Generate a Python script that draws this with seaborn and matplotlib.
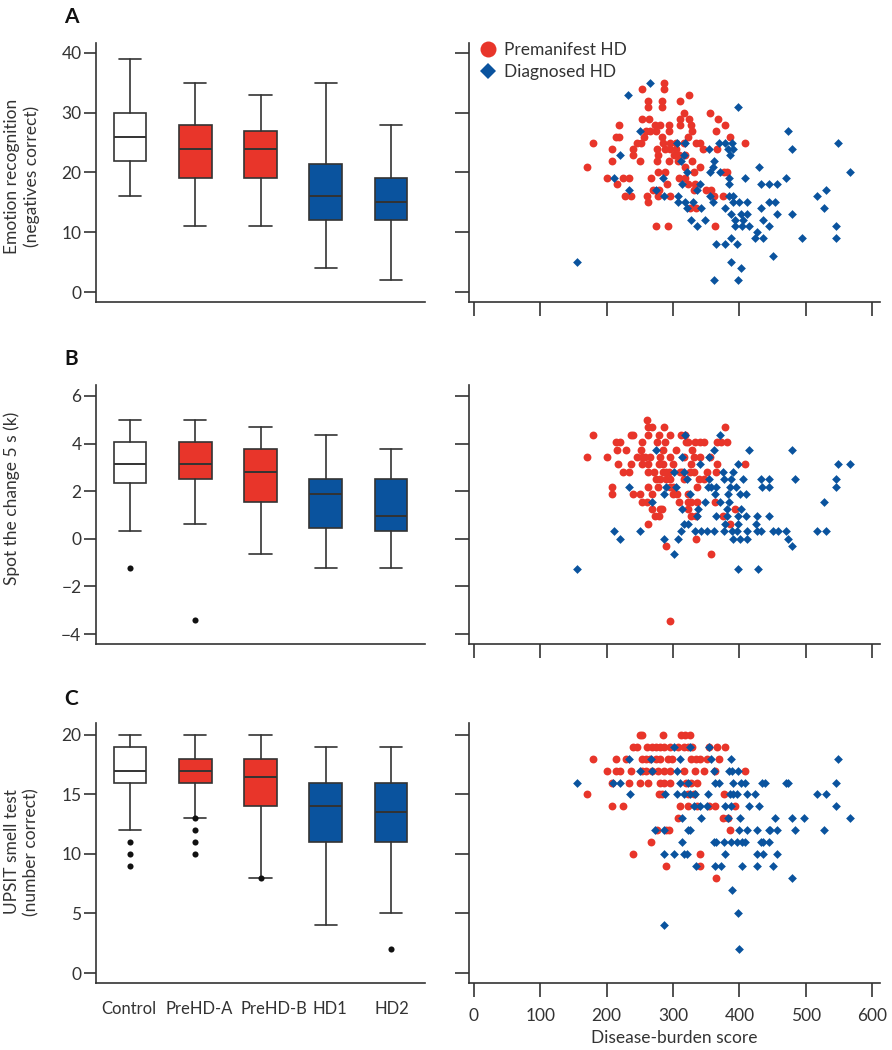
import numpy as np
import pandas as pd
import matplotlib
matplotlib.use('Agg')
import matplotlib.pyplot as plt
from matplotlib.lines import Line2D
from matplotlib.transforms import ScaledTranslation
import seaborn as sns

RED = '#E8352A'
BLUE = '#0A539E'
DARK = '#333333'

groups = ['Control', 'PreHD-A', 'PreHD-B', 'HD1', 'HD2']
box_colors = ['white', RED, RED, BLUE, BLUE]
# décalage horizontal des étiquettes (en pixels), comme dans la figure d'origine
label_shift_px = [-1, 4, 13, 4, 1]

# boxplots : moustache bas, Q1, médiane, Q3, moustache haut, points isolés
emo_low = [16, 11, 11, 4, 2]
emo_q1 = [22, 19, 19, 12, 12]
emo_med = [26, 24, 24, 16, 15]
emo_q3 = [30, 28, 27, 21.5, 19]
emo_high = [39, 35, 33, 35, 28]
emo_fliers = [[], [], [], [], []]

spot_low = [0.32, 0.64, -0.63, -1.24, -1.24]
spot_q1 = [2.36, 2.51, 1.56, 0.47, 0.32]
spot_med = [3.14, 3.14, 2.82, 1.88, 0.95]
spot_q3 = [4.06, 4.06, 3.77, 2.5, 2.5]
spot_high = [5.0, 5.0, 4.69, 4.38, 3.77]
spot_fliers = [[-1.24], [-3.43], [], [], []]

smell_low = [12, 13, 8, 4, 5]
smell_q1 = [16, 16, 14, 11, 11]
smell_med = [17, 17, 16.5, 14, 13.5]
smell_q3 = [19, 18, 18, 16, 16]
smell_high = [20, 20, 20, 19, 19]
smell_fliers = [[11, 10, 9], [13, 12, 11, 10], [8], [], [2]]

# nuages de points : score de charge de la maladie vs score du test
emo_pre_burden = [
    287,
    254, 286,
    324,
    262, 284, 310,
    262, 284,
    317, 356,
    253, 264, 311, 324, 368,
    219, 273, 280, 294, 311, 327, 378,
    259, 266, 274, 294, 328, 365,
    214, 218, 256, 284, 322, 386,
    180, 245, 252, 285, 295, 304, 316, 334, 340, 408,
    208, 239, 276, 288, 295, 304, 345, 366,
    239, 278, 302, 309, 318,
    208, 251, 276, 294, 308, 329,
    171, 318, 340,
    278, 288, 332, 377, 382,
    200, 225, 234, 267, 309, 318,
    215, 291, 322, 333,
    270, 279, 332, 350, 358,
    228, 236, 261, 278, 295, 362, 376,
    262,
    325, 334,
    274, 293, 364,
]
emo_pre_score = [
    35,
    34, 34,
    33,
    32, 32, 32,
    31, 31,
    30, 30,
    29, 29, 29, 29, 29,
    28, 28, 28, 28, 28, 28, 28,
    27, 27, 27, 27, 27, 27,
    26, 26, 26, 26, 26, 26,
    25, 25, 25, 25, 25, 25, 25, 25, 25, 25,
    24, 24, 24, 24, 24, 24, 24, 24,
    23, 23, 23, 23, 23,
    22, 22, 22, 22, 22, 22,
    21, 21, 21,
    20, 20, 20, 20, 20,
    19, 19, 19, 19, 19, 19,
    18, 18, 18, 18,
    17, 17, 17, 17, 17,
    16, 16, 16, 16, 16, 16, 16,
    15,
    14, 14,
    11, 11, 11,
]
emo_hd_burden = [
    265,
    232,
    398,
    250, 473,
    306, 318, 370, 378, 389, 549,
    355, 383, 391, 479,
    220, 316, 386,
    312, 362,
    360, 430,
    321, 356, 371, 567,
    211, 285, 385, 409, 471,
    313, 341, 385, 433, 444, 457,
    234, 275, 336, 530,
    287, 307, 356, 385, 390, 517,
    308, 318, 330, 361, 390, 400, 411, 444, 454,
    321, 342, 379, 432, 527,
    388, 403, 411, 456, 480,
    327, 348, 393, 406, 436,
    336, 394, 404, 415, 445, 546,
    426,
    388, 424, 436, 495, 545,
    365, 378, 396,
    450,
    156, 388,
    403,
    362, 398,
]
emo_hd_score = [
    35,
    33,
    31,
    27, 27,
    25, 25, 25, 25, 25, 25,
    24, 24, 24, 24,
    23, 23, 23,
    22, 22,
    21, 21,
    20, 20, 20, 20,
    19, 19, 19, 19, 19,
    18, 18, 18, 18, 18, 18,
    17, 17, 17, 17,
    16, 16, 16, 16, 16, 16,
    15, 15, 15, 15, 15, 15, 15, 15, 15,
    14, 14, 14, 14, 14,
    13, 13, 13, 13, 13,
    12, 12, 12, 12, 12,
    11, 11, 11, 11, 11, 11,
    10,
    9, 9, 9, 9, 9,
    8, 8, 8,
    6,
    5, 5,
    4,
    2, 2,
]

spot_pre_burden = [
    261,
    263, 268, 286, 378,
    180, 237, 240, 262, 279, 295, 312, 318,
    214, 220, 254, 276, 288, 320, 323, 333, 340, 346, 366, 373, 382,
    215, 229, 252, 285, 305, 329,
    171, 200, 245, 253, 258, 265, 280, 296, 317, 332, 341, 356,
    217, 236, 253, 263, 279, 285, 300, 327, 366, 408,
    225, 233, 263, 272, 285, 290, 294, 311, 313, 325, 332, 351, 365,
    274, 280, 289, 295, 316, 339, 346,
    208, 263, 277, 296, 300, 336,
    208, 239, 251, 269, 300, 306, 323,
    253, 261, 309, 322, 327, 336, 364,
    268, 280, 284, 322, 393,
    273, 279, 327, 335, 376,
    262, 386,
    334,
    289,
    358,
    296,
]
spot_pre_score = [
    5.0,
    4.69, 4.69, 4.69, 4.69,
    4.38, 4.38, 4.38, 4.38, 4.38, 4.38, 4.38, 4.38,
    4.06, 4.06, 4.06, 4.06, 4.06, 4.06, 4.06, 4.06, 4.06, 4.06, 4.06, 4.06, 4.06,
    3.75, 3.75, 3.75, 3.75, 3.75, 3.75,
    3.44, 3.44, 3.44, 3.44, 3.44, 3.44, 3.44, 3.44, 3.44, 3.44, 3.44, 3.44,
    3.13, 3.13, 3.13, 3.13, 3.13, 3.13, 3.13, 3.13, 3.13, 3.13,
    2.81, 2.81, 2.81, 2.81, 2.81, 2.81, 2.81, 2.81, 2.81, 2.81, 2.81, 2.81, 2.81,
    2.5, 2.5, 2.5, 2.5, 2.5, 2.5, 2.5,
    2.19, 2.19, 2.19, 2.19, 2.19, 2.19,
    1.88, 1.88, 1.88, 1.88, 1.88, 1.88, 1.88,
    1.56, 1.56, 1.56, 1.56, 1.56, 1.56, 1.56,
    1.25, 1.25, 1.25, 1.25, 1.25,
    0.94, 0.94, 0.94, 0.94, 0.94,
    0.63, 0.63,
    0.0,
    -0.31,
    -0.63,
    -3.44,
]
spot_hd_burden = [
    318, 371,
    274, 362, 415, 479,
    313, 355,
    340, 398, 549, 567,
    301, 317, 375, 390,
    321, 355, 377, 387, 406, 432, 444, 484, 546,
    234, 289, 304, 353, 358, 365, 386, 395, 434, 445, 546,
    287, 326, 363, 383, 401, 410,
    268, 348, 371, 384, 527,
    313, 338, 382, 403,
    336, 365, 381, 398, 410, 426, 445,
    316, 322, 378, 398, 425,
    211, 251, 312, 333, 342, 351, 362, 377, 389, 396, 411, 426, 433, 451, 458, 471, 517, 531,
    220, 287, 308, 391, 401, 412, 473,
    480,
    302,
    156, 398, 428,
]
spot_hd_score = [
    4.38, 4.38,
    3.75, 3.75, 3.75, 3.75,
    3.44, 3.44,
    3.13, 3.13, 3.13, 3.13,
    2.81, 2.81, 2.81, 2.81,
    2.5, 2.5, 2.5, 2.5, 2.5, 2.5, 2.5, 2.5, 2.5,
    2.19, 2.19, 2.19, 2.19, 2.19, 2.19, 2.19, 2.19, 2.19, 2.19, 2.19,
    1.88, 1.88, 1.88, 1.88, 1.88, 1.88,
    1.56, 1.56, 1.56, 1.56, 1.56,
    1.25, 1.25, 1.25, 1.25,
    0.94, 0.94, 0.94, 0.94, 0.94, 0.94, 0.94,
    0.63, 0.63, 0.63, 0.63, 0.63,
    0.31, 0.31, 0.31, 0.31, 0.31, 0.31, 0.31, 0.31, 0.31, 0.31, 0.31, 0.31, 0.31, 0.31, 0.31, 0.31, 0.31, 0.31,
    0.0, 0.0, 0.0, 0.0, 0.0, 0.0, 0.0,
    -0.31,
    -0.63,
    -1.25, -1.25, -1.25,
]

smell_pre_burden = [
    250, 254, 285, 312, 318, 325,
    239, 245, 261, 268, 274, 280, 286, 295, 308, 316, 322, 329, 355, 366, 378,
    180, 214, 229, 254, 260, 266, 274, 280, 292, 299, 327, 334, 341, 351, 369,
    200, 214, 220, 236, 253, 260, 268, 277, 286, 296, 317, 333, 346, 363, 408,
    208, 234, 250, 263, 280, 287, 295, 320, 327, 336,
    171, 279, 284, 323, 331, 377,
    208, 225, 310, 323, 336, 355, 364, 393,
    308, 376, 383,
    276, 290, 294, 386,
    267,
    239, 340,
    289, 340,
    365,
]
smell_pre_score = [
    20, 20, 20, 20, 20, 20,
    19, 19, 19, 19, 19, 19, 19, 19, 19, 19, 19, 19, 19, 19, 19,
    18, 18, 18, 18, 18, 18, 18, 18, 18, 18, 18, 18, 18, 18, 18,
    17, 17, 17, 17, 17, 17, 17, 17, 17, 17, 17, 17, 17, 17, 17,
    16, 16, 16, 16, 16, 16, 16, 16, 16, 16,
    15, 15, 15, 15, 15, 15,
    14, 14, 14, 14, 14, 14, 14, 14,
    13, 13, 13,
    12, 12, 12, 12,
    11,
    10, 10,
    9, 9,
    8,
]
smell_hd_burden = [
    301, 326, 355,
    234, 267, 311, 357, 388, 549,
    250, 269, 306, 362, 384, 389, 398,
    156, 210, 220, 311, 323, 363, 369, 390, 403, 409, 434, 439, 471, 474, 546,
    235, 288, 306, 316, 326, 333, 353, 386, 391, 396, 411, 424, 517, 530,
    331, 340, 351, 378, 388, 415, 430, 546,
    314, 342, 383, 401, 453, 479, 497, 567,
    273, 287, 323, 326, 400, 411, 426, 444, 446, 457, 484, 527,
    314, 362, 365, 377, 388, 396, 404, 409, 433, 436, 445,
    287, 302, 316, 321, 379, 426, 436, 456,
    335, 363, 372, 404, 427, 450,
    480,
    389,
    398,
    287,
    400,
]
smell_hd_score = [
    19, 19, 19,
    18, 18, 18, 18, 18, 18,
    17, 17, 17, 17, 17, 17, 17,
    16, 16, 16, 16, 16, 16, 16, 16, 16, 16, 16, 16, 16, 16, 16,
    15, 15, 15, 15, 15, 15, 15, 15, 15, 15, 15, 15, 15, 15,
    14, 14, 14, 14, 14, 14, 14, 14,
    13, 13, 13, 13, 13, 13, 13, 13,
    12, 12, 12, 12, 12, 12, 12, 12, 12, 12, 12, 12,
    11, 11, 11, 11, 11, 11, 11, 11, 11, 11, 11,
    10, 10, 10, 10, 10, 10, 10, 10,
    9, 9, 9, 9, 9, 9,
    8,
    7,
    5,
    4,
    2,
]

sns.set_style('ticks')
plt.rcParams['font.family'] = ['Lato', 'DejaVu Sans']
plt.rcParams['text.color'] = DARK
plt.rcParams['axes.labelcolor'] = DARK
plt.rcParams['xtick.color'] = DARK
plt.rcParams['ytick.color'] = DARK

fig = plt.figure(figsize=(8.92, 10.5), dpi=100)
W, H = 892, 1050


def px_axes(x0, y0, x1, y1):
    # rectangle en pixels (origine en haut à gauche)
    return fig.add_axes([x0 / W, 1 - y1 / H, (x1 - x0) / W, (y1 - y0) / H])


def style_spines(ax):
    sns.despine(ax=ax)
    for side in ['left', 'bottom']:
        ax.spines[side].set_color(DARK)
        ax.spines[side].set_linewidth(1.2)


def draw_box(ax, low, q1, med, q3, high, fliers, ylim, yticks):
    stats = []
    for g, lo, a, m, b, hi, f in zip(groups, low, q1, med, q3, high, fliers):
        stats.append(dict(label=g, whislo=lo, q1=a, med=m, q3=b, whishi=hi, fliers=f))
    bp = ax.bxp(stats, positions=range(len(groups)), widths=0.5, capwidths=0.34,
                patch_artist=True, showfliers=True,
                boxprops=dict(edgecolor=DARK, linewidth=1.2),
                whiskerprops=dict(color=DARK, linewidth=1.2),
                capprops=dict(color=DARK, linewidth=1.2),
                medianprops=dict(color=DARK, linewidth=1.4),
                flierprops=dict(marker='o', markerfacecolor='#111111',
                                markeredgecolor='none', markersize=4.4))
    for patch, c in zip(bp['boxes'], box_colors):
        patch.set_facecolor(c)
    ax.set_xlim(-0.52, 4.52)
    ax.set_ylim(*ylim)
    ax.set_yticks(yticks)
    ax.tick_params(axis='y', length=9, width=1.2, pad=1.5, labelsize=12.5)
    ax.tick_params(axis='x', length=0, pad=13, labelsize=12)
    style_spines(ax)


def draw_scatter(ax, pre_x, pre_y, hd_x, hd_y, ylim, yticks):
    pre = pd.DataFrame({'burden': pre_x, 'score': pre_y})
    hd = pd.DataFrame({'burden': hd_x, 'score': hd_y})
    sns.scatterplot(data=pre, x='burden', y='score', color=RED, marker='o',
                    s=32, linewidth=0, ax=ax)
    sns.scatterplot(data=hd, x='burden', y='score', color=BLUE, marker='D',
                    s=20, linewidth=0, ax=ax)
    ax.set_xlim(-7.5, 612)
    ax.set_ylim(*ylim)
    ax.set_yticks(yticks)
    ax.set_yticklabels([])
    ax.set_xticks([0, 100, 200, 300, 400, 500, 600])
    ax.set_xlabel('')
    ax.set_ylabel('')
    ax.tick_params(axis='both', length=10, width=1.2, pad=8, labelsize=12.5)
    style_spines(ax)


rows = [
    (43, 302, 'A', 22.7, 'Emotion recognition\n(negatives correct)', 0.486,
     (-1.67, 41.67), [0, 10, 20, 30, 40],
     (emo_low, emo_q1, emo_med, emo_q3, emo_high, emo_fliers),
     (emo_pre_burden, emo_pre_score, emo_hd_burden, emo_hd_score)),
    (385, 644, 'B', 365, 'Spot the change 5 s (k)', 0.564,
     (-4.42, 6.46), [-4, -2, 0, 2, 4, 6],
     (spot_low, spot_q1, spot_med, spot_q3, spot_high, spot_fliers),
     (spot_pre_burden, spot_pre_score, spot_hd_burden, spot_hd_score)),
    (723, 983, 'C', 705, 'UPSIT smell test\n(number correct)', 0.504,
     (-0.84, 21.0), [0, 5, 10, 15, 20],
     (smell_low, smell_q1, smell_med, smell_q3, smell_high, smell_fliers),
     (smell_pre_burden, smell_pre_score, smell_hd_burden, smell_hd_score)),
]

for i, (top, bottom, letter, base, ylab, ylab_y, ylim, yticks, box, sc) in enumerate(rows):
    ax_box = px_axes(96, top, 425, bottom)
    ax_sc = px_axes(469, top, 880, bottom)

    draw_box(ax_box, *box, ylim, yticks)
    draw_scatter(ax_sc, *sc, ylim, yticks)

    ax_box.set_ylabel(ylab, fontsize=12.5, linespacing=1.25)
    ax_box.yaxis.label.set_verticalalignment('top')
    ax_box.yaxis.set_label_coords(-0.28, ylab_y)

    if i < 2:
        ax_box.set_xticklabels([])
        ax_sc.set_xticklabels([])
    else:
        ax_sc.set_xlabel('Disease-burden score', fontsize=12.5, labelpad=4)
        for lab, dx in zip(ax_box.get_xticklabels(), label_shift_px):
            lab.set_transform(lab.get_transform() + ScaledTranslation(dx / 100, 0, fig.dpi_scale_trans))

    fig.text(64 / W, 1 - base / H, letter, fontsize=15, fontweight='bold',
             va='baseline', ha='left', color='#111111')

    if i == 0:
        handles = [
            Line2D([], [], linestyle='none', marker='o', color=RED, markersize=11.5,
                   markeredgewidth=0, label='Premanifest HD'),
            Line2D([], [], linestyle='none', marker='D', color=BLUE, markersize=8,
                   markeredgewidth=0, label='Diagnosed HD'),
        ]
        ax_sc.legend(handles=handles, loc='upper left', bbox_to_anchor=(0.0, 1.045),
                     frameon=False, fontsize=12.5, handlelength=1.0,
                     handletextpad=0.4, labelspacing=0.35, borderaxespad=0.2)

fig.savefig('out.png', dpi=100)
